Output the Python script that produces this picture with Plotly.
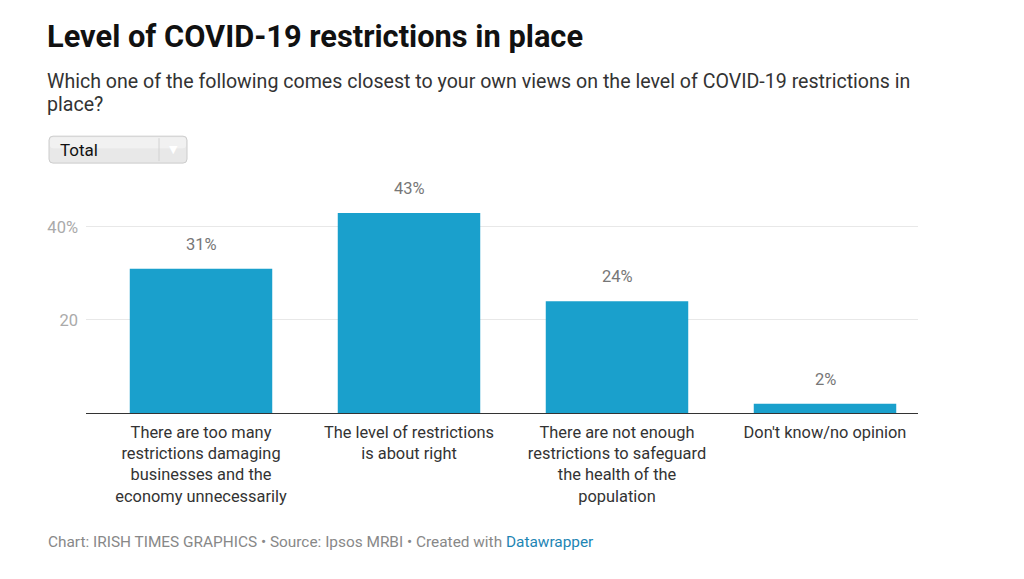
import plotly.graph_objects as go

categories = [
    "There are too many<br>restrictions damaging<br>businesses and the<br>economy unnecessarily",
    "The level of restrictions<br>is about right",
    "There are not enough<br>restrictions to safeguard<br>the health of the<br>population",
    "Don't know/no opinion",
]
values = [31, 43, 24, 2]
value_labels = ["31%", "43%", "24%", "2%"]
ytick_vals = [20, 40]
ytick_text = ["20", "40%"]

OFF = 8  # page body margin
W, H = 1024 - OFF, 579 - OFF
L, R = 86 - OFF, 918 - OFF
T, B = 203 - OFF, 413.5 - OFF
ymax = (B - T) / 4.665

def px(x):
    return (x - OFF - L) / (R - L)

def py(y):
    return (B - (y - OFF)) / (B - T)

def rounded_rect(x0, y0, x1, y1, r):
    pts = []
    p = (f"M {px(x0 + r)} {py(y0)} L {px(x1 - r)} {py(y0)} "
         f"Q {px(x1)} {py(y0)} {px(x1)} {py(y0 + r)} L {px(x1)} {py(y1 - r)} "
         f"Q {px(x1)} {py(y1)} {px(x1 - r)} {py(y1)} L {px(x0 + r)} {py(y1)} "
         f"Q {px(x0)} {py(y1)} {px(x0)} {py(y1 - r)} L {px(x0)} {py(y0 + r)} "
         f"Q {px(x0)} {py(y0)} {px(x0 + r)} {py(y0)} Z")
    return p

FONT = "Roboto"
xs = list(range(len(values)))

fig = go.Figure()
fig.add_trace(go.Bar(
    x=xs, y=values, width=0.685,
    marker=dict(color="#1aa0cc", line=dict(width=0)),
    hoverinfo="skip",
))

for x, v, t in zip(xs, values, value_labels):
    fig.add_annotation(x=x, y=v, text=t, showarrow=False, yanchor="bottom",
                       yshift=13, font=dict(family=FONT, size=16.5, color="#777"))

# title / subtitle
fig.add_annotation(xref="paper", yref="paper", x=px(45), y=py(36), xanchor="left", yanchor="middle",
                   text="<b>Level of COVID-19 restrictions in place</b>", showarrow=False,
                   font=dict(family=FONT, size=30.8, color="#111"))
fig.add_annotation(xref="paper", yref="paper", x=px(45), y=py(81), xanchor="left", yanchor="middle",
                   text="Which one of the following comes closest to your own views on the level of COVID-19 restrictions in",
                   showarrow=False, font=dict(family=FONT, size=19.6, color="#333"))
fig.add_annotation(xref="paper", yref="paper", x=px(45), y=py(104), xanchor="left", yanchor="middle",
                   text="place?", showarrow=False, font=dict(family=FONT, size=19.6, color="#333"))

# dropdown mock
fig.add_shape(type="path", xref="paper", yref="paper", path=rounded_rect(49, 136, 187, 163, 4),
              fillcolor="#e8e8e8", line=dict(color="#cccccc", width=1), layer="above")
fig.add_shape(type="path", xref="paper", yref="paper", path=rounded_rect(50, 137, 186, 148, 3),
              fillcolor="#f1f1f1", line=dict(width=0), layer="above")
fig.add_shape(type="line", xref="paper", yref="paper", x0=px(159), x1=px(159), y0=py(138), y1=py(161),
              line=dict(color="#d2d2d2", width=1), layer="above")
fig.add_annotation(xref="paper", yref="paper", x=px(58), y=py(149.5), xanchor="left", yanchor="middle",
                   text="Total", showarrow=False, font=dict(family=FONT, size=17, color="#111"))
fig.add_annotation(xref="paper", yref="paper", x=px(173), y=py(149), xanchor="center", yanchor="middle",
                   text="▼", showarrow=False, font=dict(family="DejaVu Sans", size=11, color="#ffffff"))

# footer
fig.add_annotation(xref="paper", yref="paper", x=px(46), y=py(543), xanchor="left", yanchor="middle",
                   text="Chart: IRISH TIMES GRAPHICS • Source: Ipsos MRBI • Created with <span style='color:#1d85b4'>Datawrapper</span>",
                   showarrow=False, font=dict(family=FONT, size=15.4, color="#888"))

fig.update_layout(
    width=W, height=H,
    margin=dict(l=L, r=W - R, t=T, b=H - B, pad=0),
    paper_bgcolor="white", plot_bgcolor="white",
    showlegend=False,
    font=dict(family=FONT),
    xaxis=dict(
        range=[(86 - 201) / 208, (918 - 201) / 208],
        tickvals=xs, ticktext=categories,
        tickfont=dict(family=FONT, size=16.4, color="#333"),
        showgrid=False, zeroline=False,
        showline=True, linecolor="#333", linewidth=1,
        ticks="", ticklabelstandoff=4, fixedrange=True,
    ),
    yaxis=dict(
        range=[0, ymax],
        tickvals=ytick_vals, ticktext=ytick_text,
        tickfont=dict(family=FONT, size=16.5, color="#aaa"),
        showgrid=True, gridcolor="#e8e8e8", gridwidth=1,
        zeroline=False, showline=False, ticks="",
        ticklabelstandoff=7, fixedrange=True,
    ),
    bargap=0.3,
)

fig.write_html("out.html", config={"displayModeBar": False})
